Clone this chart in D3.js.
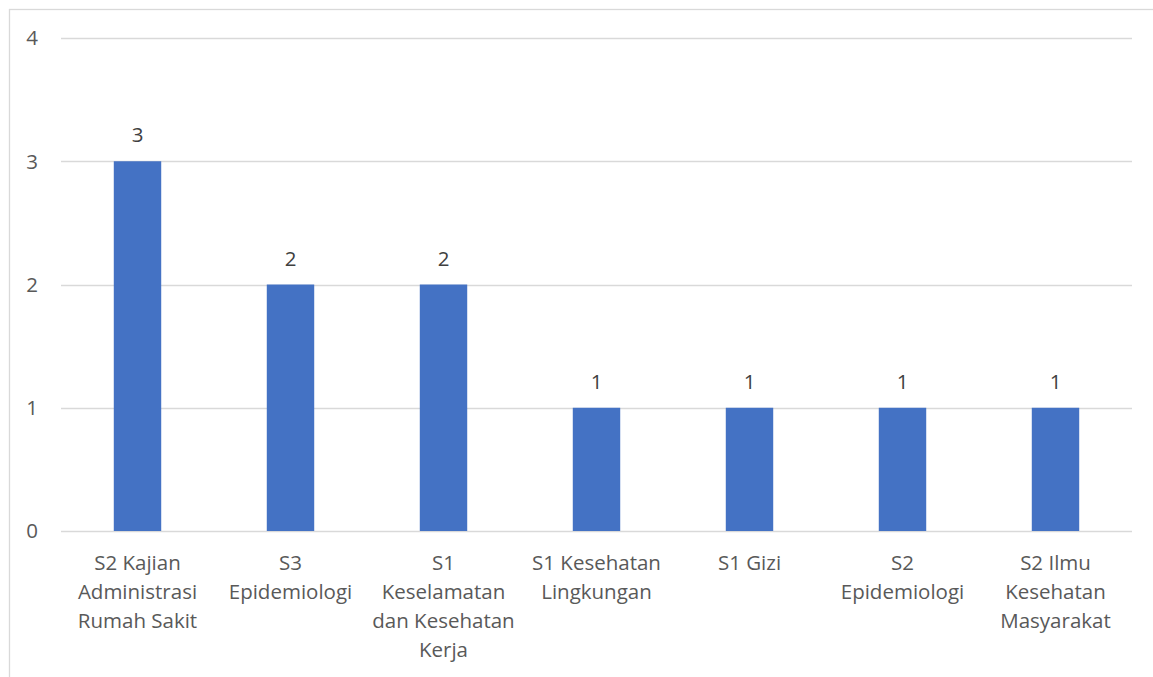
<!DOCTYPE html>
<html>
<head>
<meta charset="utf-8">
<script src="https://cdn.jsdelivr.net/npm/d3@7"></script>
<style>
  body { margin: 0; background: #fff; }
  text { font-family: "Open Sans", Lato, sans-serif; }
</style>
</head>
<body>
<div id="chart"></div>
<script>
// categories (line breaks as wrapped in the original chart)
const categories = [
  "S2 Kajian\nAdministrasi\nRumah Sakit",
  "S3\nEpidemiologi",
  "S1\nKeselamatan\ndan Kesehatan\nKerja",
  "S1 Kesehatan\nLingkungan",
  "S1 Gizi",
  "S2\nEpidemiologi",
  "S2 Ilmu\nKesehatan\nMasyarakat"
];
const values = [3, 2, 2, 1, 1, 1, 1];
const yTicks = [0, 1, 2, 3, 4];

const width = 1153;
const height = 677;
const margin = { top: 38, right: 21, bottom: 146, left: 61 };
const fontSize = 20.5;

const svg = d3.select("#chart")
  .append("svg")
  .attr("width", width)
  .attr("height", height);

svg.append("rect")
  .attr("width", width)
  .attr("height", height)
  .attr("fill", "#fff");

// chart border (cropped at right/bottom in the original)
svg.append("rect")
  .attr("x", 9.5)
  .attr("y", 9.5)
  .attr("width", width + 20)
  .attr("height", height + 20)
  .attr("fill", "none")
  .attr("stroke", "#d9d9d9")
  .attr("stroke-width", 1.3);

const x = d3.scaleBand()
  .domain(categories)
  .range([margin.left, width - margin.right])
  .paddingInner(0.69)
  .paddingOuter(0.345);

const y = d3.scaleLinear()
  .domain([0, 4])
  .range([height - margin.bottom, margin.top]);

// gridlines
svg.append("g")
  .selectAll("line")
  .data(yTicks)
  .join("line")
  .attr("x1", margin.left)
  .attr("x2", width - margin.right)
  .attr("y1", d => Math.round(y(d)) + 0.5)
  .attr("y2", d => Math.round(y(d)) + 0.5)
  .attr("stroke", "#d9d9d9")
  .attr("stroke-width", 1.3);

// y tick labels
svg.append("g")
  .selectAll("text")
  .data(yTicks)
  .join("text")
  .attr("x", 38)
  .attr("y", d => y(d))
  .attr("dy", "0.36em")
  .attr("text-anchor", "end")
  .attr("fill", "#595959")
  .attr("font-size", fontSize)
  .text(d => d);

// bars
svg.append("g")
  .selectAll("rect")
  .data(values)
  .join("rect")
  .attr("x", (d, i) => x(categories[i]))
  .attr("y", d => y(d))
  .attr("width", x.bandwidth())
  .attr("height", d => y(0) - y(d))
  .attr("fill", "#4472c4");

// value labels
svg.append("g")
  .selectAll("text")
  .data(values)
  .join("text")
  .attr("x", (d, i) => x(categories[i]) + x.bandwidth() / 2)
  .attr("y", d => y(d) - 19)
  .attr("text-anchor", "middle")
  .attr("fill", "#404040")
  .attr("font-size", fontSize)
  .text(d => d);

// category labels
const catG = svg.append("g")
  .selectAll("text")
  .data(categories)
  .join("text")
  .attr("text-anchor", "middle")
  .attr("fill", "#595959")
  .attr("font-size", fontSize);

catG.each(function (d) {
  const cx = x(d) + x.bandwidth() / 2;
  d3.select(this).selectAll("tspan")
    .data(d.split("\n"))
    .join("tspan")
    .attr("x", cx)
    .attr("y", (l, j) => 570 + j * 29)
    .text(l => l);
});
</script>
</body>
</html>
